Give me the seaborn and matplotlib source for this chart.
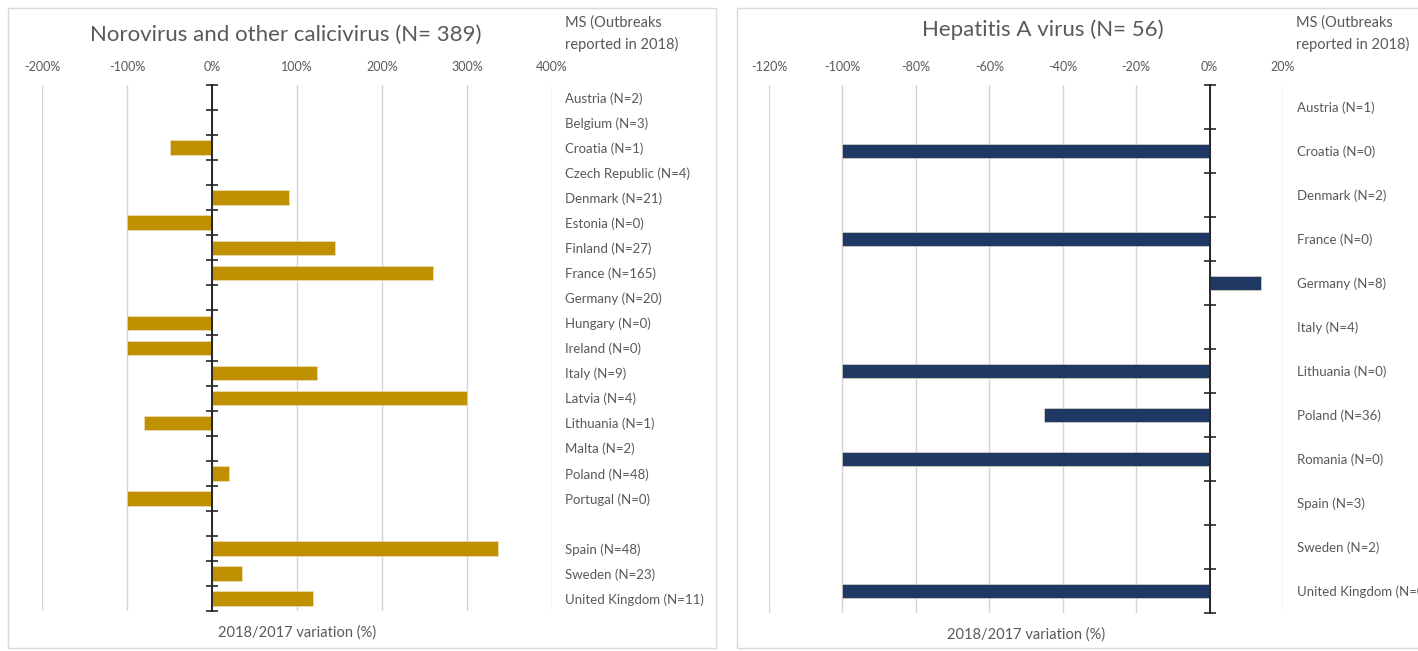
import numpy as np
import pandas as pd
import matplotlib
matplotlib.use("Agg")
import matplotlib.pyplot as plt
from matplotlib.patches import Rectangle
from matplotlib.ticker import FixedLocator, FuncFormatter
import seaborn as sns

# ---- data ----
noro_countries = ["Austria (N=2)", "Belgium (N=3)", "Croatia (N=1)", "Czech Republic (N=4)",
                  "Denmark (N=21)", "Estonia (N=0)", "Finland (N=27)", "France (N=165)",
                  "Germany (N=20)", "Hungary (N=0)", "Ireland (N=0)", "Italy (N=9)",
                  "Latvia (N=4)", "Lithuania (N=1)", "Malta (N=2)", "Poland (N=48)",
                  "Portugal (N=0)", "", "Spain (N=48)", "Sweden (N=23)", "United Kingdom (N=11)"]
noro_variation = [0, 0, -50, 0, 90, -100, 145, 260, 0, -100, -100, 124, 300, -80, 0, 20,
                  -100, 0, 336, 35, 119]

hav_countries = ["Austria (N=1)", "Croatia (N=0)", "Denmark (N=2)", "France (N=0)",
                 "Germany (N=8)", "Italy (N=4)", "Lithuania (N=0)", "Poland (N=36)",
                 "Romania (N=0)", "Spain (N=3)", "Sweden (N=2)", "United Kingdom (N=0)"]
hav_variation = [0, -100, 0, -100, 14, 0, -100, -45, -100, 0, 0, -100]

noro_ticks = [-200, -100, 0, 100, 200, 300, 400]
hav_ticks = [-120, -100, -80, -60, -40, -20, 0, 20]

sns.set_theme(style="white")
plt.rcParams["font.family"] = ["Lato", "DejaVu Sans"]

W, H = 1418, 651
fig = plt.figure(figsize=(W / 100, H / 100), dpi=100)
fig.patch.set_facecolor("white")

def px(x0, y0, x1, y1):
    # pixel box (top-left origin) -> figure fraction rect
    return [x0 / W, 1 - y1 / H, (x1 - x0) / W, (y1 - y0) / H]

# panel frames
fig.patches.append(Rectangle((8 / W, 1 - 648 / H), 708 / W, 640 / H, transform=fig.transFigure,
                             fill=False, edgecolor="#D9D9D9", lw=1))
fig.patches.append(Rectangle((737 / W, 1 - 648 / H), 700 / W, 640 / H, transform=fig.transFigure,
                             fill=False, edgecolor="#D9D9D9", lw=1))

grey = "#595959"

def draw(ax, cats, vals, ticks, color, bar_h):
    df = pd.DataFrame({"country": cats, "variation": vals})
    sns.barplot(data=df, y="country", x="variation", orient="h", color=color,
                width=bar_h, ax=ax, saturation=1, edgecolor="#F2E6C8", linewidth=0.4)
    n = len(cats)
    ax.set_xlim(ticks[0], ticks[-1])
    ax.set_ylim(n - 0.5, -0.5)
    ax.xaxis.set_major_locator(FixedLocator(ticks))
    ax.xaxis.set_major_formatter(FuncFormatter(lambda v, p: f"{v:.0f}%"))
    ax.xaxis.tick_top()
    ax.tick_params(axis="x", which="both", length=0, pad=8.5, labelsize=9, labelcolor=grey)
    ax.grid(axis="x", color="#D4D4D4", lw=1)
    ax.set_axisbelow(True)
    for s in ["top", "right", "bottom"]:
        ax.spines[s].set_visible(False)
    ax.spines["left"].set_position(("data", 0))
    ax.spines["left"].set_color("#262626")
    ax.spines["left"].set_linewidth(1.4)
    ax.spines["left"].set_zorder(5)
    ax.yaxis.set_minor_locator(FixedLocator(np.arange(n + 1) - 0.5))
    ax.tick_params(axis="y", which="minor", left=True, right=False, direction="inout",
                   length=8, width=1.2, color="#262626")
    ax.tick_params(axis="y", which="major", left=False, right=False, labelleft=False,
                   labelright=True, pad=3.3, labelsize=9.5, labelcolor=grey)
    ax.set_ylabel("")
    ax.set_xlabel("2018/2017 variation (%)", fontsize=10.5, color=grey, labelpad=10)
    ax.set_facecolor("none")

ax1 = fig.add_axes(px(42, 85, 552, 611))
draw(ax1, noro_countries, noro_variation, noro_ticks, "#BF9000", 0.58)

ax2 = fig.add_axes(px(769, 85, 1283, 613))
draw(ax2, hav_countries, hav_variation, hav_ticks, "#203864", 0.34)
ax2.tick_params(axis="y", which="major", pad=4.2)

# titles and column headers
fig.text(286 / W, 1 - 35 / H, "Norovirus and other calicivirus (N= 389)", ha="center", va="center",
         fontsize=16, color=grey)
fig.text(1043 / W, 1 - 30 / H, "Hepatitis A virus (N= 56)", ha="center", va="center",
         fontsize=16, color=grey)
fig.text(565 / W, 1 - 34 / H, "MS (Outbreaks\nreported in 2018)", ha="left", va="center",
         fontsize=10.5, color=grey, linespacing=1.6)
fig.text(1296 / W, 1 - 34 / H, "MS (Outbreaks\nreported in 2018)", ha="left", va="center",
         fontsize=10.5, color=grey, linespacing=1.6)

fig.savefig("out.png", dpi=100, facecolor="white")
